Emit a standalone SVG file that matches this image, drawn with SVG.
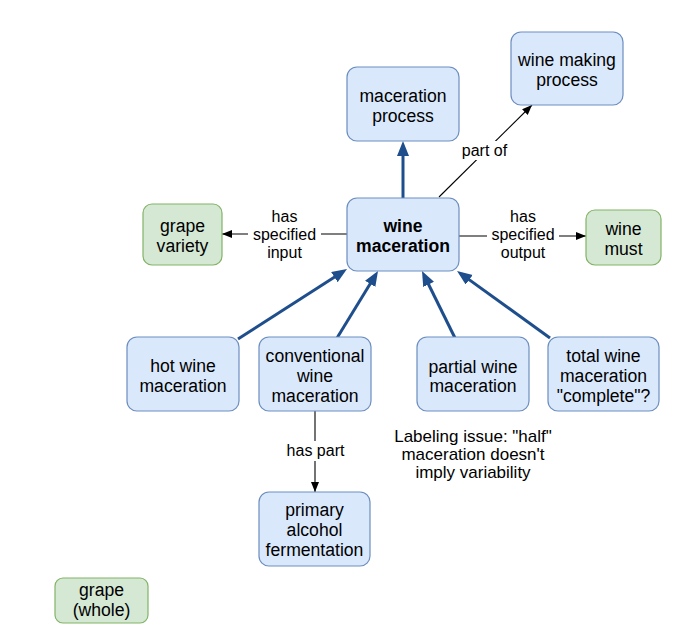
<svg xmlns="http://www.w3.org/2000/svg" width="688" height="642" viewBox="0 0 688 642">
<style>
.blue rect{fill:#dae8fc;stroke:#6c8ebf;stroke-width:1.2}
.green rect{fill:#d5e8d4;stroke:#82b366;stroke-width:1.2}
text{font-family:"Liberation Sans",Arial,Helvetica,sans-serif;fill:#000;text-anchor:middle}
.n{font-size:17.6px}
.b{font-weight:bold}
.lbl{font-size:16px}
.sm{font-size:16px}
.note{font-size:17px}
.thick{stroke:#1f4e8c;stroke-width:3;fill:none}
.thin{stroke:#000;stroke-width:1.1;fill:none}
.bg{fill:#fff;stroke:none}
</style>
<defs>
<marker id="ab" markerUnits="userSpaceOnUse" markerWidth="16" markerHeight="13" refX="10" refY="6" orient="auto">
<path d="M0,0 L15,6 L0,12 z" fill="#1f4e8c"/>
</marker>
<marker id="ak" markerUnits="userSpaceOnUse" markerWidth="11" markerHeight="9" refX="10" refY="4" orient="auto">
<path d="M0,0 L10,4 L0,8 z" fill="#000"/>
</marker>
</defs>
<rect width="688" height="642" fill="#fff"/>
<g id="connectors">
<path class="thick" d="M403,198 L403,146" marker-end="url(#ab)"/>
<path class="thick" d="M238,339 L342.8,271.7" marker-end="url(#ab)"/>
<path class="thick" d="M337,338 L375.4,275.3" marker-end="url(#ab)"/>
<path class="thick" d="M455,338 L424.2,275.5" marker-end="url(#ab)"/>
<path class="thick" d="M550,338 L461.1,273.9" marker-end="url(#ab)"/>
<path class="thin" d="M439,197 L532,105" marker-end="url(#ak)"/>
<rect class="bg" x="461" y="141" width="47" height="19"/>
<text class="lbl" x="484.5" y="155.5">part of</text>
<path class="thin" d="M459,236 L586,236" marker-end="url(#ak)"/>
<rect class="bg" x="487" y="207" width="72" height="56"/>
<text class="lbl" x="523" y="222">has</text>
<text class="lbl" x="523" y="240">specified</text>
<text class="lbl" x="523" y="257.5">output</text>
<path class="thin" d="M347,234 L222,234" marker-end="url(#ak)"/>
<rect class="bg" x="248" y="207" width="73" height="56"/>
<text class="lbl" x="284.5" y="222">has</text>
<text class="lbl" x="284.5" y="240">specified</text>
<text class="lbl" x="284.5" y="257.5">input</text>
<path class="thin" d="M315,411 L315,492" marker-end="url(#ak)"/>
<rect class="bg" x="283" y="441" width="65" height="20"/>
<text class="sm" x="315.5" y="456">has part</text>
</g>
<g id="wine-making-process" class="blue">
<rect x="511" y="32" width="112" height="73" rx="10"/>
<text class="n" x="567" y="66">wine making</text>
<text class="n" x="567" y="86">process</text>
</g>
<g id="maceration-process" class="blue">
<rect x="347" y="67" width="112" height="74" rx="10"/>
<text class="n" x="403" y="101.5">maceration</text>
<text class="n" x="403" y="121.5">process</text>
</g>
<g id="wine-maceration" class="blue">
<rect x="347" y="198" width="112" height="73" rx="10"/>
<text class="n b" x="403" y="231.5">wine</text>
<text class="n b" x="403" y="251.5">maceration</text>
</g>
<g id="grape-variety" class="green">
<rect x="143" y="204" width="79" height="61" rx="9"/>
<text class="n" x="182.5" y="231.5">grape</text>
<text class="n" x="182.5" y="251.5">variety</text>
</g>
<g id="wine-must" class="green">
<rect x="586" y="210" width="75" height="55" rx="9"/>
<text class="n" x="623.5" y="234.5">wine</text>
<text class="n" x="623.5" y="254.5">must</text>
</g>
<g id="hot-wine-maceration" class="blue">
<rect x="127" y="337" width="112" height="74" rx="10"/>
<text class="n" x="183" y="372">hot wine</text>
<text class="n" x="183" y="392">maceration</text>
</g>
<g id="conventional-wine-maceration" class="blue">
<rect x="259" y="337" width="112" height="74" rx="10"/>
<text class="n" x="315" y="362">conventional</text>
<text class="n" x="315" y="382">wine</text>
<text class="n" x="315" y="402">maceration</text>
</g>
<g id="partial-wine-maceration" class="blue">
<rect x="417" y="337" width="112" height="74" rx="10"/>
<text class="n" x="473" y="372.5">partial wine</text>
<text class="n" x="473" y="392">maceration</text>
</g>
<g id="total-wine-maceration" class="blue">
<rect x="548" y="337" width="111" height="74" rx="10"/>
<text class="n" x="603.5" y="362">total wine</text>
<text class="n" x="603.5" y="382">maceration</text>
<text class="n" x="603.5" y="402">"complete"?</text>
</g>
<g id="labeling-issue-note">
<text class="note" x="473" y="442">Labeling issue: "half"</text>
<text class="note" x="473" y="460">maceration doesn't</text>
<text class="note" x="473" y="478">imply variability</text>
</g>
<g id="primary-alcohol-fermentation" class="blue">
<rect x="259" y="492" width="111" height="74" rx="10"/>
<text class="n" x="314.5" y="515.5">primary</text>
<text class="n" x="314.5" y="535.5">alcohol</text>
<text class="n" x="314.5" y="555.5">fermentation</text>
</g>
<g id="grape-whole" class="green">
<rect x="55" y="578" width="93" height="45" rx="8"/>
<text class="n" x="101.5" y="596">grape</text>
<text class="n" x="101.5" y="616">(whole)</text>
</g>
</svg>
